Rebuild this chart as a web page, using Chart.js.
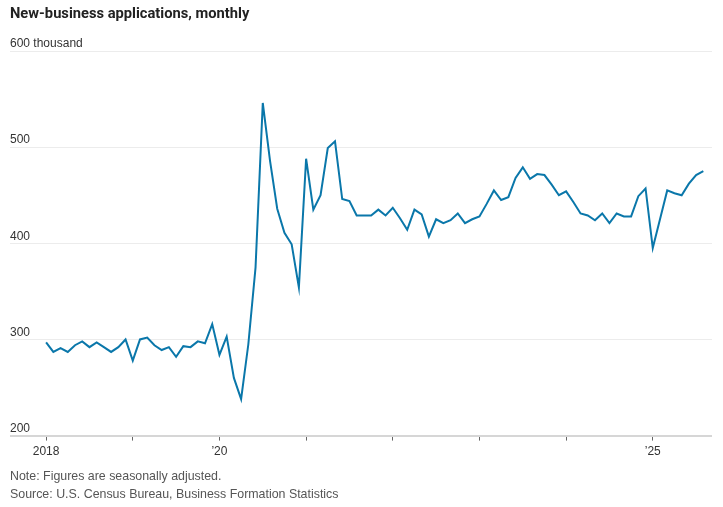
<!DOCTYPE html>
<html>
<head>
<meta charset="utf-8">
<script src="https://cdn.jsdelivr.net/npm/chart.js@4.4.1/dist/chart.umd.min.js"></script>
<style>
  body { margin: 0; background: #fff; }
  #wrap { position: relative; width: 723px; height: 507px; }
  #title { position: absolute; left: 10px; top: 4px; font: bold 14.7px "Roboto", sans-serif; color: #222; }
  .note { position: absolute; left: 10px; font: 12.4px "Liberation Sans", sans-serif; color: #555; }
  canvas { position: absolute; left: 0; top: 0; }
</style>
</head>
<body>
<div id="wrap">
  <canvas id="chart" width="723" height="507"></canvas>
  <div id="title">New-business applications, monthly</div>
  <div class="note" style="top:469px">Note: Figures are seasonally adjusted.</div>
  <div class="note" style="top:487px">Source: U.S. Census Bureau, Business Formation Statistics</div>
</div>
<script>
"use strict";

// monthly, Jan 2018 - Aug 2025, thousands
let applications = [
  297, 287, 291, 287, 294, 298, 292, 297, 292, 287, 292, 300,
  278, 300, 302, 294, 289, 292, 282, 293, 292, 298, 296, 316,
  284, 303, 260, 238, 295, 375, 546, 486, 436, 411, 399, 354,
  488, 435, 450, 499, 506, 446, 444, 429, 429, 429, 435, 429,
  437, 426, 414, 435, 430, 407, 425, 421, 424, 431, 421, 425,
  428, 441, 455, 445, 448, 468, 479, 467, 472, 471, 461, 450,
  454, 443, 431, 429, 424, 431, 421, 431, 428, 428, 449, 457,
  395, 425, 455, 452, 450, 462, 471, 475
];

// january of each year, counted in months from Jan 2018
let yearTicks = [0, 12, 24, 36, 48, 60, 72, 84];
let yearLabels = ["2018", "", "\u201920", "", "", "", "", "\u201925"];
let yTicks = [200, 300, 400, 500, 600];

let points = [];
for (let i = 0; i < applications.length; i++) {
  points.push({ x: i, y: applications[i] });
}

let tickFont = { family: "Liberation Sans", size: 12 };

let ctx = document.getElementById("chart");
let chart = new Chart(ctx, {
  type: "line",
  data: {
    datasets: [
      {
        data: points,
        borderColor: "#0a77aa",
        borderWidth: 2,
        pointRadius: 0,
        tension: 0,
      },
    ],
  },
  options: {
    responsive: false,
    animation: false,
    layout: { padding: { left: 10, right: 11, top: 51, bottom: 44 } },
    plugins: { legend: { display: false }, tooltip: { enabled: false } },
    scales: {
      x: {
        type: "linear",
        min: -5,
        max: 92.2,
        afterBuildTicks: (scale) => {
          scale.ticks = yearTicks.map((v) => ({ value: v }));
        },
        grid: {
          drawOnChartArea: false,
          drawTicks: true,
          tickLength: 5,
          tickColor: "#666",
        },
        border: { display: false },
        ticks: {
          autoSkip: false,
          maxRotation: 0,
          padding: 4,
          color: "#333",
          font: tickFont,
          callback: (v) => yearLabels[yearTicks.indexOf(v)],
        },
      },
      y: {
        min: 200,
        max: 600,
        afterBuildTicks: (scale) => {
          scale.ticks = yTicks.map((v) => ({ value: v }));
        },
        grid: {
          drawTicks: false,
          color: (c) => (c.tick && c.tick.value === 200 ? "#d6d6d6" : "#ececec"),
          lineWidth: (c) => (c.tick && c.tick.value === 200 ? 2 : 1),
        },
        border: { display: false },
        ticks: {
          mirror: true,
          padding: 0,
          labelOffset: -7,
          color: "#333",
          font: tickFont,
          callback: (v) => (v === 600 ? "600 thousand" : v),
        },
      },
    },
  },
});
</script>
</body>
</html>
